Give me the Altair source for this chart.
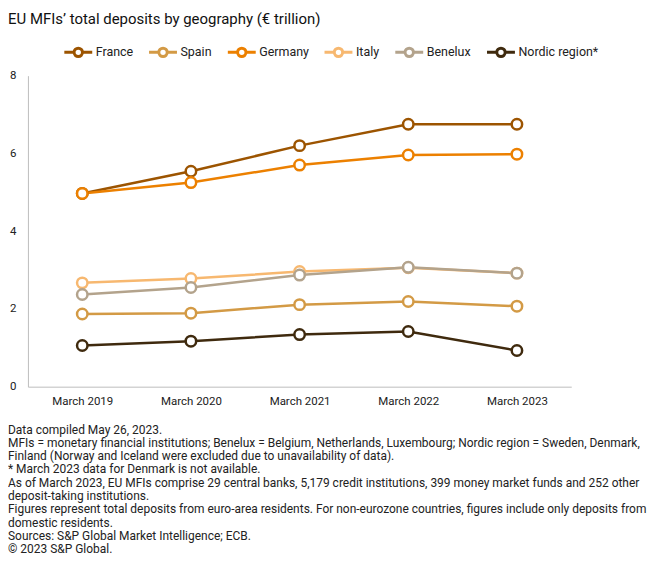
import altair as alt
import pandas as pd

periods = ["March 2019", "March 2020", "March 2021", "March 2022", "March 2023"]
series = ["France", "Spain", "Germany", "Italy", "Benelux", "Nordic region*"]
france = [4.97, 5.54, 6.20, 6.75, 6.75]
spain = [1.87, 1.89, 2.11, 2.19, 2.07]
germany = [4.97, 5.25, 5.70, 5.96, 5.98]
italy = [2.67, 2.78, 2.96, 3.06, 2.92]
benelux = [2.37, 2.55, 2.87, 3.07, 2.92]
nordic = [1.06, 1.17, 1.34, 1.42, 0.93]
colors = ["#9c5400", "#d39a45", "#ec8000", "#f7b870", "#b3a38c", "#3f2a0e"]

footnotes = [
    "Data compiled May 26, 2023.",
    "MFIs = monetary financial institutions; Benelux = Belgium, Netherlands, Luxembourg; Nordic region = Sweden, Denmark,",
    "Finland (Norway and Iceland were excluded due to unavailability of data).",
    "* March 2023 data for Denmark is not available.",
    "As of March 2023, EU MFIs comprise 29 central banks, 5,179 credit institutions, 399 money market funds and 252 other",
    "deposit-taking institutions.",
    "Figures represent total deposits from euro-area residents. For non-eurozone countries, figures include only deposits from",
    "domestic residents.",
    "Sources: S&P Global Market Intelligence; ECB.",
    "\u00a9 2023 S&P Global.",
]

values = [france, spain, germany, italy, benelux, nordic]
rows = []
for s, vals in zip(series, values):
    for p, v in zip(periods, vals):
        rows.append({"period": p, "series": s, "value": v})
df = pd.DataFrame(rows)

FONT = "Roboto"
legend_path = ("M-1,0H-0.3 M0.3,0H1 "
               "M0.3,0A0.3,0.3 0 1,1 -0.3,0A0.3,0.3 0 1,1 0.3,0")

color = alt.Color(
    "series:N",
    scale=alt.Scale(domain=series, range=colors),
    sort=series,
    legend=alt.Legend(
        title=None, orient="none", direction="horizontal",
        legendX=35, legendY=-39,
        symbolType=legend_path, symbolSize=784, symbolStrokeWidth=3,
        symbolFillColor="white", labelFont=FONT, labelFontSize=12.5,
        labelColor="#222", columnPadding=9, labelOffset=2,
    ),
)

x = alt.X("period:O", sort=periods, title=None,
          scale=alt.Scale(paddingOuter=0.5),
          axis=alt.Axis(labelAngle=0, ticks=False, labelPadding=9,
                        domainColor="#bdbdbd", labelFont=FONT,
                        labelFontSize=11.5, labelColor="#222"))
y = alt.Y("value:Q", title=None,
          scale=alt.Scale(domain=[0, 8]),
          axis=alt.Axis(values=[0, 2, 4, 6, 8], grid=False, ticks=False,
                        labelPadding=12, domainColor="#bdbdbd",
                        labelFont=FONT, labelFontSize=11.5, labelColor="#222"))

base = alt.Chart(df).encode(x=x, y=y)
lines = base.mark_line(strokeWidth=2.5).encode(color=color)
pts = base.mark_point(shape="circle", filled=False, fill="white", fillOpacity=1,
                      size=110, strokeWidth=2.5, opacity=1).encode(
    stroke=alt.Stroke("series:N", scale=alt.Scale(domain=series, range=colors),
                      legend=None))

notes = alt.Chart(pd.DataFrame({"t": [0]})).mark_text(
    align="left", baseline="top", font=FONT, fontSize=12, lineHeight=13.35,
    color="#222",
).encode(x=alt.value(-20), y=alt.value(350), text=alt.value(footnotes))

chart = alt.layer(lines, pts, notes).properties(
    width=545, height=312,
    title=alt.TitleParams("EU MFIs\u2019 total deposits by geography (\u20ac trillion)",
                          anchor="start", frame="group", font=FONT,
                          fontSize=15, fontWeight="normal", color="#111",
                          offset=10, dx=-20),
    padding={"left": 0, "top": 3, "right": 5, "bottom": 0},
).configure_view(stroke=None)

chart.save("out.html", embed_options={"renderer": "svg", "actions": False})
